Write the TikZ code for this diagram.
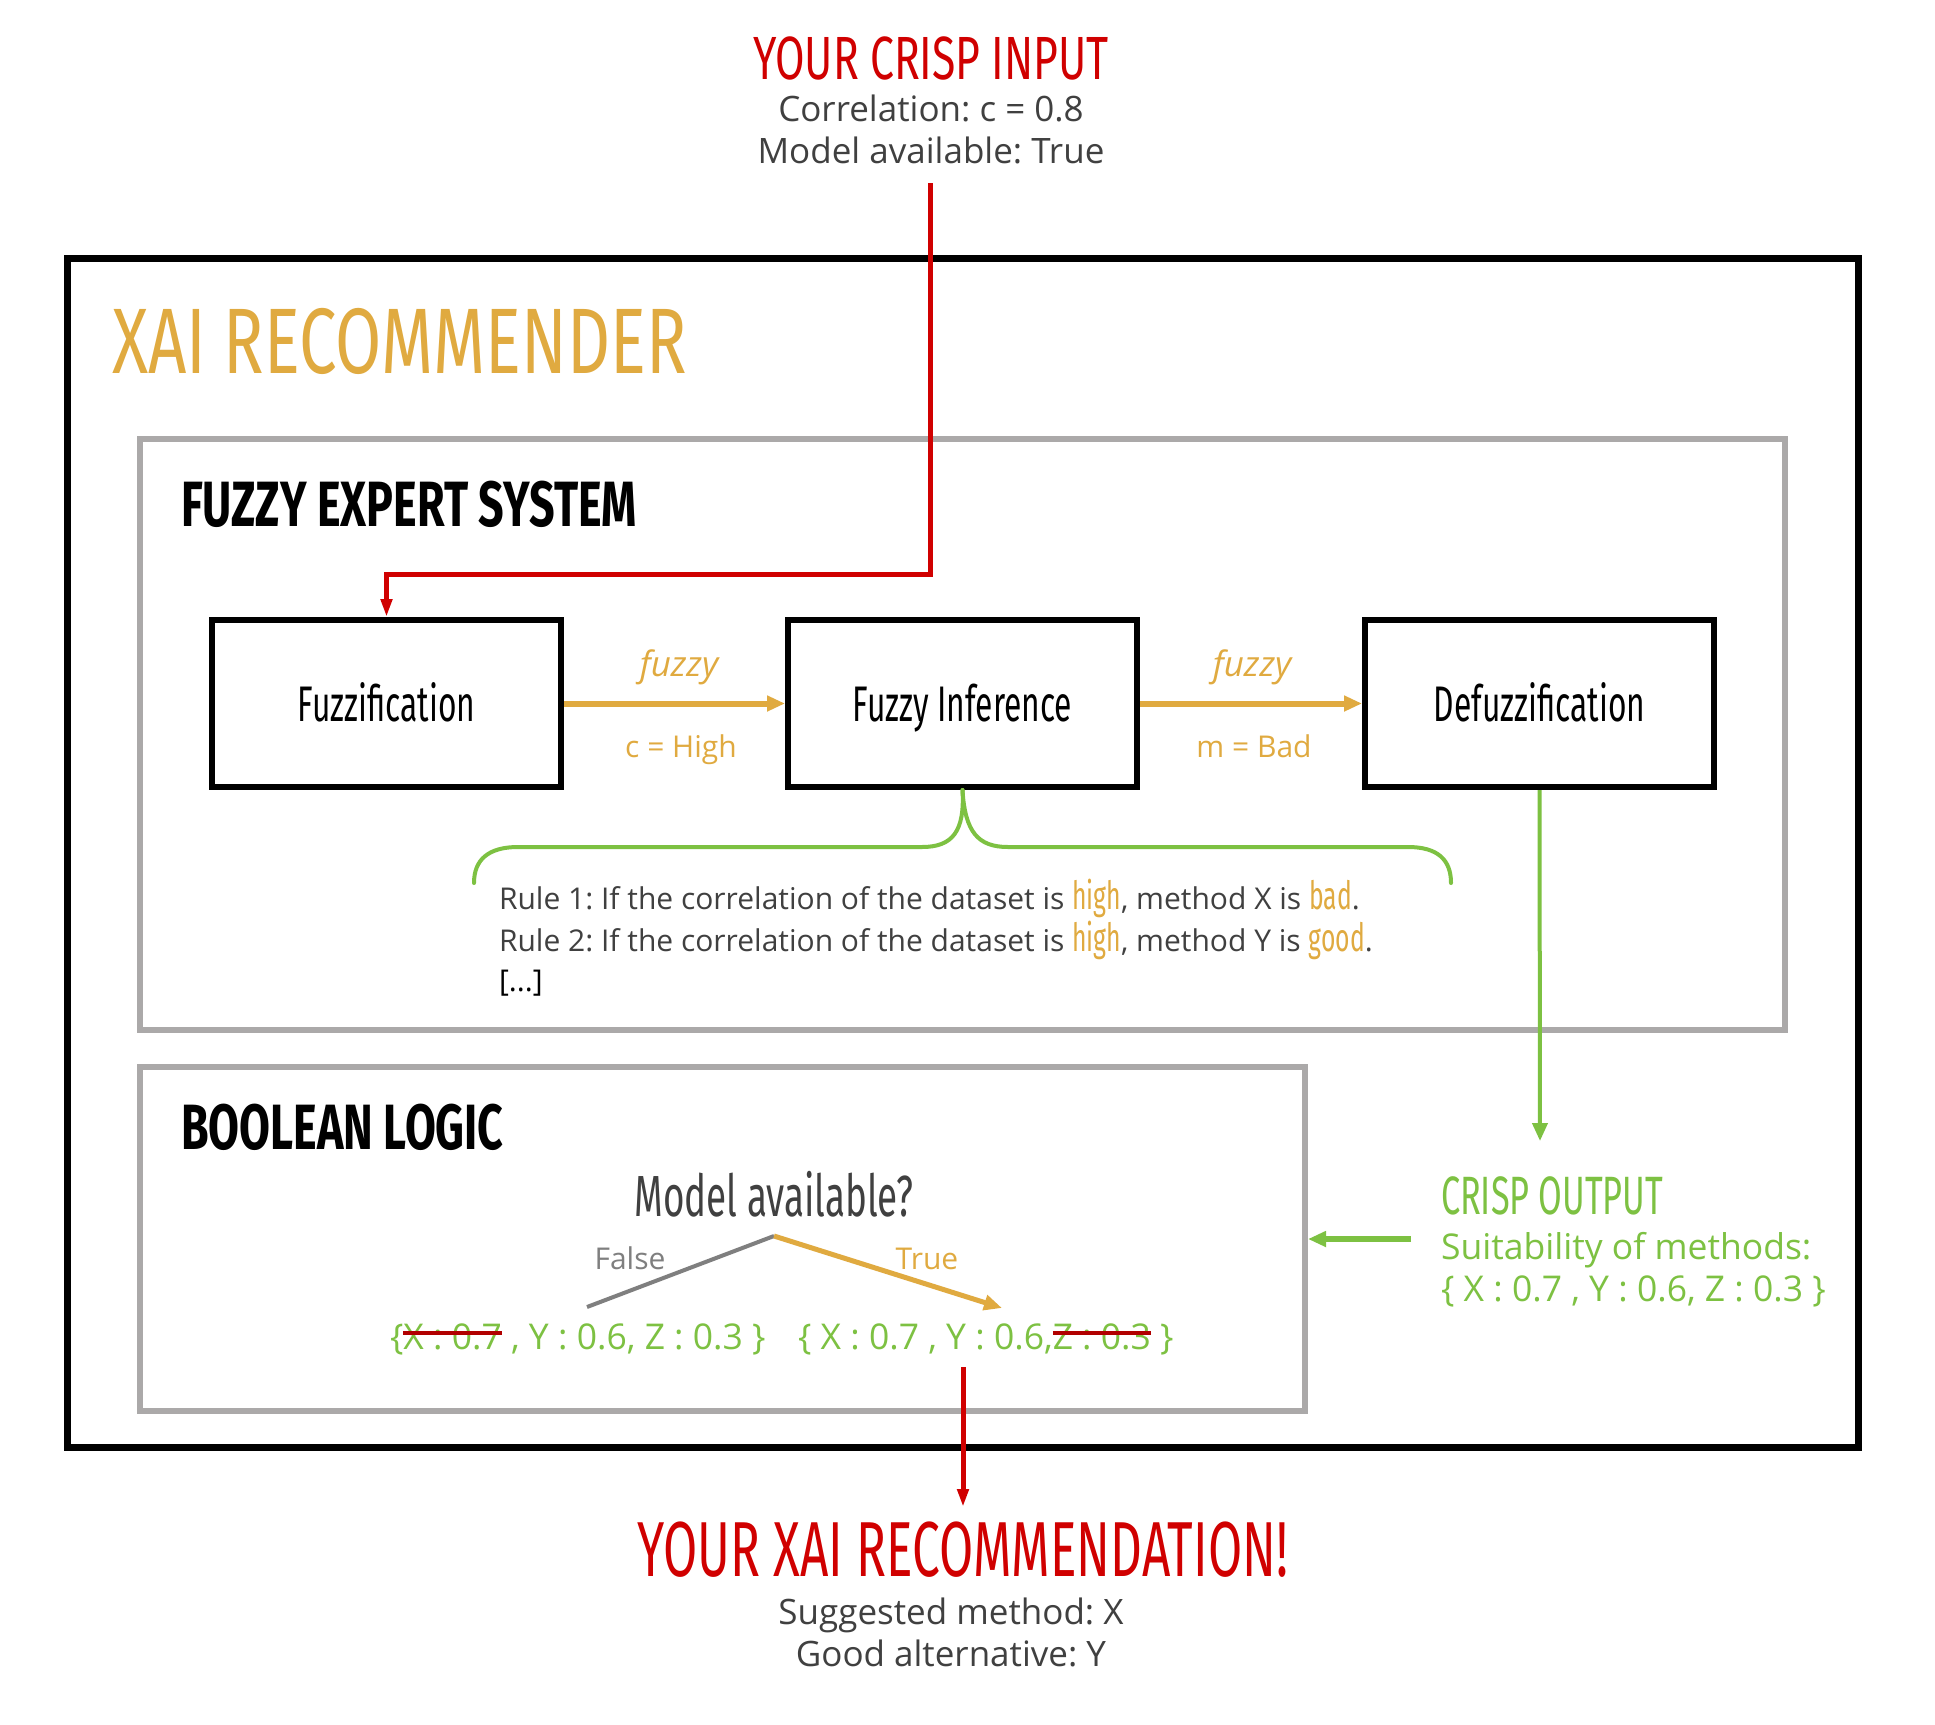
\documentclass[tikz,border=0pt]{standalone}
\usepackage{fontspec}
\setmainfont{Open Sans}
\newfontfamily\osw[FakeStretch=0.7]{Fira Sans}
\newfontfamily\oswn[FakeStretch=0.635]{Fira Sans}
\newfontfamily\osww[FakeStretch=0.72]{Fira Sans}
\usetikzlibrary{arrows.meta}
\definecolor{cred}{HTML}{D00000}
\definecolor{corange}{HTML}{E0AA40}
\definecolor{cgreen}{HTML}{7DC142}
\definecolor{cgray}{HTML}{ABA9A9}
\definecolor{ctext}{HTML}{404040}
\definecolor{cline}{HTML}{7F7F7F}
\newcommand{\oswhl}[1]{{\oswn\fontsize{39}{39}\selectfont\color{corange}#1}}
\frenchspacing
\tikzset{
  lbl/.style={inner sep=0pt, outer sep=0pt},
  body/.style={lbl, text=ctext, font=\fontsize{35}{41}\selectfont},
  small/.style={lbl, font=\fontsize{30}{35}\selectfont},
  rule/.style={lbl, text=ctext, font=\fontsize{30}{42}\selectfont, anchor=base west},
  setg/.style={lbl, text=cgreen, font=\fontsize{35.5}{41}\selectfont, anchor=base west},
  heading/.style={lbl, text=black, font=\osw\bfseries\fontsize{64}{64}\selectfont, anchor=base west},
  procbox/.style={draw=black, line width=6pt, minimum width=349pt, minimum height=167pt,
    inner sep=0pt, text height=35pt, text depth=0pt, font=\oswn\fontsize{50}{50}\selectfont},
  redline/.style={draw=cred, line width=5pt},
  tipA/.style={-{Triangle[length=18pt,width=15pt]}},
  tipN/.style={-{Triangle[length=18pt,width=11pt]}},
  orangearrow/.style={draw=corange, line width=6pt, tipA},
  greenline/.style={draw=cgreen, line width=4pt},
  strike/.style={draw=cred!85!black, line width=4pt},
}
\begin{document}
\begin{tikzpicture}[x=1pt,y=-1pt]
\useasboundingbox[fill=white] (0,0) rectangle (1935,1724);

% containers
\node[draw=black, line width=7pt, minimum width=1791pt, minimum height=1189pt, inner sep=0pt] (xaibox) at (962.5,852.5) {};
\node[draw=cgray, line width=6pt, minimum width=1645pt, minimum height=591pt, inner sep=0pt] (fesbox) at (962.5,734.5) {};
\node[draw=cgray, line width=6pt, minimum width=1165pt, minimum height=344pt, inner sep=0pt] (boolbox) at (722.5,1239) {};

% input
\node[lbl, anchor=base, text=cred, font=\osw\fontsize{61}{61}\selectfont] (intitle) at (931,79) {YOUR CRISP INPUT};
\node[body, anchor=base] (in1) at (931,121) {Correlation: c = 0.8};
\node[body, anchor=base] (in2) at (931,163) {Model available: True};
\coordinate (inp) at (930,183);
\coordinate (bend) at (930,574);

% titles
\node[lbl, anchor=base west, text=corange, font=\osww\fontsize{93}{93}\selectfont] (xai) at (112,373) {XAI RECOMMENDER};
\node[heading] (fes) at (181,526) {FUZZY EXPERT SYSTEM};
\node[heading] (bl) at (181,1149) {BOOLEAN LOGIC};

% process boxes
\node[procbox] (fuzz) at (386.5,703.5) {Fuzzification};
\node[procbox] (inf) at (962.5,703.5) {Fuzzy Inference};
\node[procbox] (defuzz) at (1539.5,703.5) {Defuzzification};

\draw[redline, tipN] (inp) -- (bend) -| (fuzz.north);

\draw[orangearrow] (fuzz.east) -- (inf.west);
\draw[orangearrow] (inf.east) -- (defuzz.west);
\node[small, anchor=base, text=corange, font=\itshape\fontsize{35}{40}\selectfont] (f1) at (679,676) {fuzzy};
\node[small, anchor=base, text=corange] (ch) at (681,757) {c = High};
\node[small, anchor=base, text=corange, font=\itshape\fontsize{35}{40}\selectfont] (f2) at (1252,676) {fuzzy};
\node[small, anchor=base, text=corange] (mb) at (1254,757) {m = Bad};

% brace
\draw[greenline, line cap=round] (474,883) .. controls (474,860) and (488,847) .. (518,847) -- (922,847) .. controls (952,847) and (965,832) .. (inf.south);
\draw[greenline, line cap=round] (inf.south) .. controls (965,832) and (978,847) .. (1008,847) -- (1408,847) .. controls (1438,847) and (1451,860) .. (1451,883);

% rules
\node[rule] (r1) at (499,909) {Rule 1: If the correlation of the dataset is \oswhl{high}, method X is \oswhl{bad}.};
\node[rule] (r2) at (499,951) {Rule 2: If the correlation of the dataset is \oswhl{high}, method Y is \oswhl{good}.};
\node[rule, text=black] (r3) at (499,991) {[...]};

% crisp output
\coordinate (crispin) at (1540,1141);
\draw[greenline, tipA] (defuzz.south) -- (crispin);
\node[lbl, anchor=base west, text=cgreen, font=\oswn\fontsize{54}{54}\selectfont] (co) at (1441,1214) {CRISP OUTPUT};
\node[setg] (co1) at (1441,1259) {Suitability of methods:};
\node[setg] (co2) at (1441,1301) {\{ X : 0.7 , Y : 0.6, Z : 0.3 \}};
\coordinate (coarrow) at (1411,1239);
\draw[greenline, line width=6pt, tipA] (coarrow) -- (boolbox.east);

% boolean logic
\node[lbl, anchor=base, text=ctext, font=\oswn\fontsize{58}{58}\selectfont] (mq) at (774,1216) {Model available?};
\coordinate (treetop) at (774,1236);
\coordinate (falseend) at (587,1307);
\coordinate (trueend) at (1002,1308);
\draw[draw=cline, line width=4pt] (falseend) -- (treetop);
\draw[draw=corange, line width=5pt, tipA] (treetop) -- (trueend);
\node[small, anchor=base, text=cline] (fl) at (630,1269) {False};
\node[small, anchor=base, text=corange] (tl) at (927,1269) {True};

\node[setg] (ls1) at (390,1349) {\{};
\node[setg] (ls2) at (ls1.base east) {X : 0.7};
\node[setg] (ls3) at (ls2.base east) {\ , Y : 0.6, Z : 0.3 \}};
\draw[strike] ([yshift=16pt]ls2.base west) -- ([yshift=16pt]ls2.base east);

\node[setg] (rs1) at (798,1349) {\{ X : 0.7 , Y : 0.6,\ };
\node[setg] (rs2) at (rs1.base east) {Z : 0.3};
\node[setg] (rs3) at (rs2.base east) {\ \}};
\draw[strike] ([yshift=16pt]rs2.base west) -- ([yshift=16pt]rs2.base east);

% output
\coordinate (boolout) at (963,1367);
\coordinate (recin) at (963,1507);
\draw[redline, tipN] (boolout) -- (recin);
\node[lbl, anchor=base, text=cred, font=\oswn\fontsize{78}{78}\selectfont] (rec) at (963,1576) {YOUR XAI RECOMMENDATION!};
\node[body, anchor=base] (o1) at (951,1624) {Suggested method: X};
\node[body, anchor=base] (o2) at (951,1666) {Good alternative: Y};
\end{tikzpicture}
\end{document}
